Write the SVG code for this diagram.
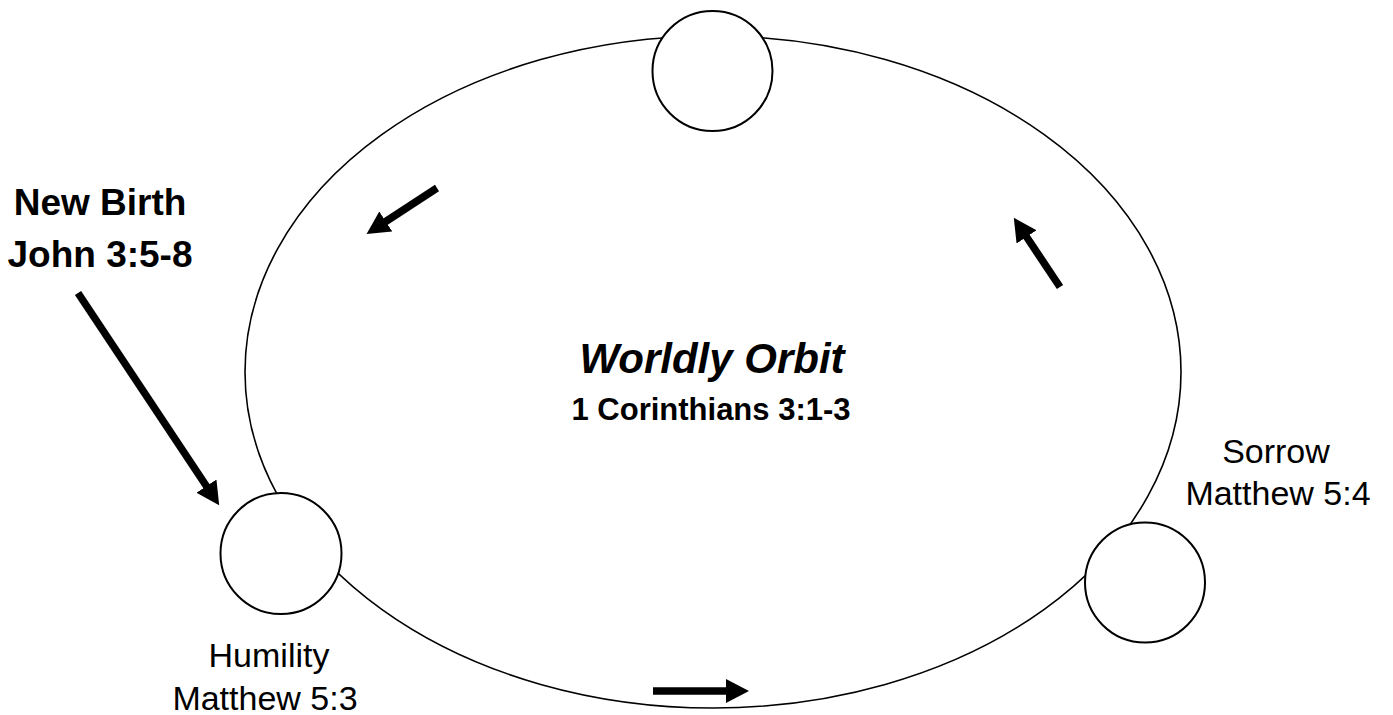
<svg xmlns="http://www.w3.org/2000/svg" width="1393" height="715" viewBox="0 0 1393 715">
<style>
.orbit{fill:none;stroke:#000;stroke-width:1.6}
.node{fill:#fff;stroke:#000;stroke-width:2}
.arrow{stroke:#000;stroke-width:7.5;fill:none;marker-end:url(#head)}
text{font-family:"Liberation Sans",Arial,sans-serif;fill:#000;text-anchor:middle}
.b{font-weight:bold}
.lbl{font-size:34px}
</style>
<defs>
<marker id="head" markerUnits="userSpaceOnUse" markerWidth="24" markerHeight="25" refX="1" refY="12" orient="auto">
<path d="M0,0 L23,12 L0,24 z" fill="#000"/>
</marker>
</defs>
<rect width="1393" height="715" fill="#fff"/>
<g id="orbit">
<ellipse class="orbit" cx="713" cy="372" rx="468" ry="336"/>
<text x="712" y="373" class="b" font-size="42" font-style="italic">Worldly Orbit</text>
<text x="711" y="420" class="b" font-size="31">1 Corinthians 3:1-3</text>
</g>
<g id="node-top">
<circle class="node" cx="712.5" cy="71" r="60"/>
</g>
<g id="node-humility">
<circle class="node" cx="281" cy="553.5" r="60.5"/>
<text x="269" y="667" class="lbl">Humility</text>
<text x="265" y="710" class="lbl">Matthew 5:3</text>
</g>
<g id="node-sorrow">
<circle class="node" cx="1145" cy="582.5" r="60"/>
<text x="1276" y="463" class="lbl">Sorrow</text>
<text x="1278" y="505" class="lbl">Matthew 5:4</text>
</g>
<g id="new-birth">
<text x="100" y="215" class="b" font-size="37">New Birth</text>
<text x="100" y="267" class="b" font-size="37">John 3:5-8</text>
</g>
<g id="connectors">
<line class="arrow" x1="78" y1="293" x2="207" y2="487"/>
<line class="arrow" x1="437" y1="188" x2="385" y2="222"/>
<line class="arrow" x1="1060" y1="287" x2="1026" y2="236"/>
<line class="arrow" x1="653" y1="691" x2="727" y2="691"/>
</g>
</svg>
